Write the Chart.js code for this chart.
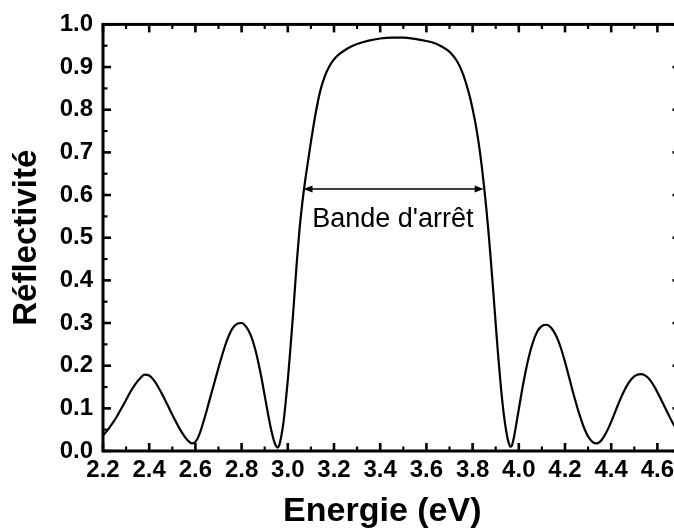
<!DOCTYPE html>
<html><head><meta charset="utf-8">
<script src="https://cdn.jsdelivr.net/npm/chart.js@4/dist/chart.umd.min.js"></script>
<style>
html,body{margin:0;padding:0;overflow:hidden;background:#fff;width:674px;height:532px}
#wrap{width:686px;height:532px}
</style></head><body>
<div id="wrap"><canvas id="c" width="686" height="532"></canvas></div>
<script>
// Energie (eV)
const energy = [
  2.20,2.22,2.24,2.26,2.28,2.30,2.32,2.34,2.36,2.38,2.40,2.42,2.44,2.46,2.48,2.50,2.52,2.54,2.56,2.575,2.585,2.595,
  2.61,2.62,2.64,2.66,2.68,2.70,2.72,2.74,2.76,2.78,2.80,2.82,2.84,2.86,2.88,2.89,2.90,2.91,2.92,2.93,2.94,2.948,2.955,2.962,
  2.97,2.98,2.99,3.00,3.01,3.02,3.03,3.04,3.05,3.06,3.07,3.08,3.09,3.10,3.12,3.14,3.16,3.18,3.20,3.22,3.24,3.27,3.30,3.35,3.40,3.45,
  3.50,3.55,3.60,3.63,3.66,3.69,3.71,3.73,3.75,3.77,3.79,3.81,3.82,3.83,3.84,3.85,3.86,3.87,3.88,3.89,3.90,3.91,3.92,3.93,3.94,3.95,3.957,3.963,
  3.97,3.98,3.99,4.00,4.02,4.04,4.06,4.08,4.10,4.12,4.14,4.16,4.18,4.20,4.22,4.24,4.26,4.28,4.30,4.32,4.335,
  4.35,4.37,4.39,4.41,4.43,4.45,4.47,4.49,4.51,4.53,4.55,4.57,4.59,4.61,4.63,4.65,4.67,4.69,4.70];
// Réflectivité
const reflectivity = [
  0.036,0.049,0.064,0.081,0.100,0.120,0.140,0.157,0.170,0.179,0.177,0.166,0.149,0.129,0.107,0.085,0.064,0.045,0.029,0.021,0.018,0.019,
  0.030,0.043,0.078,0.117,0.156,0.195,0.232,0.264,0.287,0.298,0.300,0.291,0.271,0.236,0.188,0.160,0.130,0.100,0.071,0.045,0.024,0.013,0.008,0.012,
  0.030,0.062,0.110,0.166,0.232,0.300,0.375,0.450,0.515,0.568,0.613,0.652,0.688,0.724,0.790,0.843,0.878,0.902,0.918,0.929,0.937,0.947,0.954,0.962,0.967,0.969,
  0.969,0.966,0.961,0.957,0.950,0.940,0.930,0.916,0.895,0.865,0.826,0.775,0.744,0.708,0.666,0.618,0.565,0.506,0.440,0.370,0.298,0.228,0.165,0.110,0.066,0.033,0.018,0.010,
  0.013,0.035,0.066,0.098,0.160,0.213,0.253,0.280,0.293,0.296,0.289,0.272,0.245,0.209,0.168,0.127,0.090,0.058,0.034,0.021,0.018,
  0.021,0.035,0.056,0.082,0.109,0.134,0.155,0.170,0.178,0.180,0.176,0.165,0.148,0.127,0.105,0.083,0.062,0.044,0.036];
const xTickLabels = [2.2,2.4,2.6,2.8,3.0,3.2,3.4,3.6,3.8,4.0,4.2,4.4,4.6];
const yTickLabels = [0.0,0.1,0.2,0.3,0.4,0.5,0.6,0.7,0.8,0.9,1.0];
const bandEdges = [3.068, 3.848];
const bandLevel = 0.614;
const bandLabel = "Bande d'arrêt";
const bandLabelPos = [3.455, 0.525];

const FONT = "'Liberation Sans', Arial, sans-serif";

const framePlugin = {
  id: 'frame',
  afterDatasetsDraw(chart) {
    const {ctx, chartArea: {left, right, top, bottom}, scales: {x, y}} = chart;
    ctx.save();
    ctx.strokeStyle = '#000';
    ctx.fillStyle = '#000';
    // stop-band arrow
    const ax1 = x.getPixelForValue(bandEdges[0]);
    const ax2 = x.getPixelForValue(bandEdges[1]);
    const ay = y.getPixelForValue(bandLevel);
    ctx.lineWidth = 1.6;
    ctx.beginPath(); ctx.moveTo(ax1 + 4, ay); ctx.lineTo(ax2 - 4, ay); ctx.stroke();
    ctx.beginPath(); ctx.moveTo(ax1, ay); ctx.lineTo(ax1 + 9, ay - 3.5); ctx.lineTo(ax1 + 9, ay + 3.5); ctx.closePath(); ctx.fill();
    ctx.beginPath(); ctx.moveTo(ax2, ay); ctx.lineTo(ax2 - 9, ay - 3.5); ctx.lineTo(ax2 - 9, ay + 3.5); ctx.closePath(); ctx.fill();
    ctx.font = "27px " + FONT;
    ctx.textAlign = 'center';
    ctx.textBaseline = 'alphabetic';
    ctx.fillText(bandLabel, x.getPixelForValue(bandLabelPos[0]), y.getPixelForValue(bandLabelPos[1]));
    // frame
    ctx.lineWidth = 3;
    ctx.strokeRect(left, top, right - left, bottom - top);
    // inward ticks
    for (let i = 0; i <= 25; i++) {
      const v = x.min + i * 0.1;
      const px = x.getPixelForValue(v);
      const major = i % 2 === 0;
      const len = major ? 8 : 4.5;
      ctx.lineWidth = major ? 2.6 : 2.2;
      ctx.beginPath(); ctx.moveTo(px, bottom); ctx.lineTo(px, bottom - len); ctx.stroke();
      ctx.beginPath(); ctx.moveTo(px, top); ctx.lineTo(px, top + len); ctx.stroke();
    }
    for (let i = 0; i <= 20; i++) {
      const v = i * 0.05;
      const py = y.getPixelForValue(v);
      const major = i % 2 === 0;
      const len = major ? 8 : 4.5;
      ctx.lineWidth = major ? 2.6 : 2.2;
      ctx.beginPath(); ctx.moveTo(left, py); ctx.lineTo(left + len, py); ctx.stroke();
      ctx.beginPath(); ctx.moveTo(right, py); ctx.lineTo(right - len, py); ctx.stroke();
    }
    ctx.restore();
  }
};

new Chart(document.getElementById('c'), {
  type: 'line',
  data: {
    datasets: [{
      data: energy.map((e, i) => ({x: e, y: reflectivity[i]})),
      borderColor: '#000',
      borderWidth: 2.2,
      pointRadius: 0,
      fill: false,
      cubicInterpolationMode: 'monotone'
    }]
  },
  options: {
    responsive: false,
    animation: false,
    devicePixelRatio: 1,
    layout: {padding: {top: 24, right: 5.5, left: 0, bottom: 0}},
    plugins: {legend: {display: false}, tooltip: {enabled: false}},
    scales: {
      x: {
        type: 'linear', min: 2.2, max: 4.7,
        afterBuildTicks: s => { s.ticks = xTickLabels.map(v => ({value: v})); },
        afterFit: s => { s.height = 81; },
        grid: {display: false, drawTicks: false},
        border: {display: false},
        ticks: {padding: 5, color: '#000', autoSkip: false, maxRotation: 0,
          font: {family: FONT, weight: 'bold', size: 24},
          callback: v => Number(v).toFixed(1)},
        title: {display: true, text: 'Energie (eV)  ', color: '#000',
          font: {family: FONT, weight: 'bold', size: 34}, padding: {top: 0, bottom: 0}}
      },
      y: {
        type: 'linear', min: 0, max: 1,
        afterBuildTicks: s => { s.ticks = yTickLabels.map(v => ({value: v})); },
        afterFit: s => { s.width = 103; },
        grid: {display: false, drawTicks: false},
        border: {display: false},
        ticks: {padding: 10, color: '#000',
          font: {family: FONT, weight: 'bold', size: 24},
          callback: v => Number(v).toFixed(1)},
        title: {display: true, text: 'Réflectivité', color: '#000',
          font: {family: FONT, weight: 'bold', size: 33}, padding: {top: 7, bottom: 0}}
      }
    }
  },
  plugins: [framePlugin]
});
</script>
</body></html>
